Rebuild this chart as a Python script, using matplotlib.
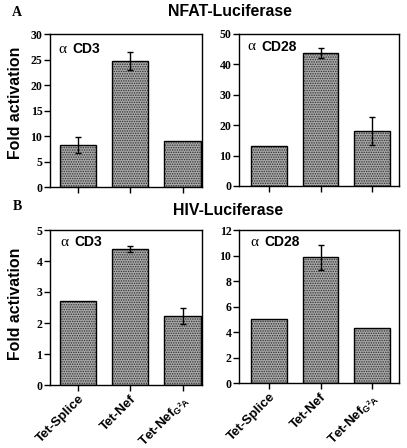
import matplotlib
matplotlib.use("Agg")
import matplotlib.pyplot as plt
import numpy as np

plt.rcParams['hatch.linewidth'] = 0.7
plt.rcParams['mathtext.fontset'] = 'custom'
plt.rcParams['mathtext.rm'] = 'Liberation Sans:bold'
plt.rcParams['mathtext.bf'] = 'Liberation Sans:bold'
plt.rcParams['mathtext.it'] = 'Liberation Sans:bold'

categories = ['Tet-Splice', 'Tet-Nef', r'Tet-Nef$_{\mathbf{G}^{\mathbf{2}}\mathbf{A}}$']

nfat_cd3 = [8.2, 24.7, 9.0]
nfat_cd3_err = [1.6, 1.8, 0.0]
nfat_cd28 = [13.2, 43.8, 18.1]
nfat_cd28_err = [0.0, 1.6, 4.5]
hiv_cd3 = [2.72, 4.38, 2.23]
hiv_cd3_err = [0.0, 0.09, 0.27]
hiv_cd28 = [5.04, 9.86, 4.29]
hiv_cd28_err = [0.0, 1.0, 0.0]

W, H = 407, 448
fig = plt.figure(figsize=(W / 100, H / 100), dpi=100)

def ax_px(x0, y0, x1, y1):
    return fig.add_axes([x0 / W, 1 - y1 / H, (x1 - x0) / W, (y1 - y0) / H])

panels = [
    (ax_px(50, 34, 202, 187), nfat_cd3, nfat_cd3_err, 30, 5, (-0.536, 2.373), 'CD3', False, (0.055, 0.90)),
    (ax_px(239, 34, 399, 186), nfat_cd28, nfat_cd28_err, 50, 10, (-0.583, 2.524), 'CD28', False, (0.05, 0.915)),
    (ax_px(50, 230, 202, 385), hiv_cd3, hiv_cd3_err, 5, 1, (-0.536, 2.373), 'CD3', True, (0.066, 0.92)),
    (ax_px(239, 230, 399, 383), hiv_cd28, hiv_cd28_err, 12, 2, (-0.583, 2.524), 'CD28', True, (0.069, 0.92)),
]

x = np.arange(len(categories))
for ax, vals, errs, ymax, step, xl, lab, showx, tpos in panels:
    ax.bar(x, vals, width=0.69, color='#a9a9a9', edgecolor='#2e2e2e', hatch='.......', linewidth=0)
    ax.bar(x, vals, width=0.69, fill=False, edgecolor='black', linewidth=1.0)
    for xi, v, e in zip(x, vals, errs):
        if e > 0:
            ax.errorbar([xi], [v], yerr=[e], fmt='none', ecolor='black', elinewidth=1.0, capsize=2.0, capthick=1.0)
    ax.set_xlim(*xl)
    ax.set_ylim(0, ymax)
    ax.set_yticks(np.arange(0, ymax + step / 2, step))
    ax.set_xticks(x)
    for s in ax.spines.values():
        s.set_linewidth(1.0)
    ax.tick_params(axis='both', direction='out', length=4, width=1.0, pad=1.5)
    for t in ax.get_yticklabels():
        t.set_fontfamily('Liberation Serif')
        t.set_fontweight('bold')
        t.set_fontsize(8.5)
    if showx:
        ax.set_xticklabels(categories, rotation=45, ha='right', rotation_mode='anchor',
                           fontfamily='Liberation Sans', fontweight='bold', fontsize=9.5)
    else:
        ax.set_xticklabels([])
    ax.text(tpos[0], tpos[1], '\u03b1', transform=ax.transAxes, fontfamily='Liberation Serif',
            fontsize=11, va='center', ha='left')
    ax.annotate(lab, xy=tpos, xycoords='axes fraction', xytext=(10, 0), textcoords='offset points',
                fontfamily='Liberation Sans', fontweight='bold', fontsize=10, va='center', ha='left')

def ftext(px, py, s, **kw):
    fig.text(px / W, 1 - py / H, s, **kw)

ftext(230, 12, 'NFAT-Luciferase', fontfamily='Liberation Sans', fontweight='bold', fontsize=11.4, ha='center', va='center')
ftext(228, 210, 'HIV-Luciferase', fontfamily='Liberation Sans', fontweight='bold', fontsize=11.4, ha='center', va='center')
ftext(17, 12.5, 'A', fontfamily='Liberation Serif', fontweight='bold', fontsize=10, ha='center', va='center')
ftext(17, 207, 'B', fontfamily='Liberation Serif', fontweight='bold', fontsize=10, ha='center', va='center')
ftext(16, 103, 'Fold activation', fontfamily='Liberation Sans', fontweight='bold', fontsize=11.4, ha='center', va='center', rotation=90)
ftext(16, 303.5, 'Fold activation', fontfamily='Liberation Sans', fontweight='bold', fontsize=11.4, ha='center', va='center', rotation=90)

fig.savefig('out.png', dpi=100)
